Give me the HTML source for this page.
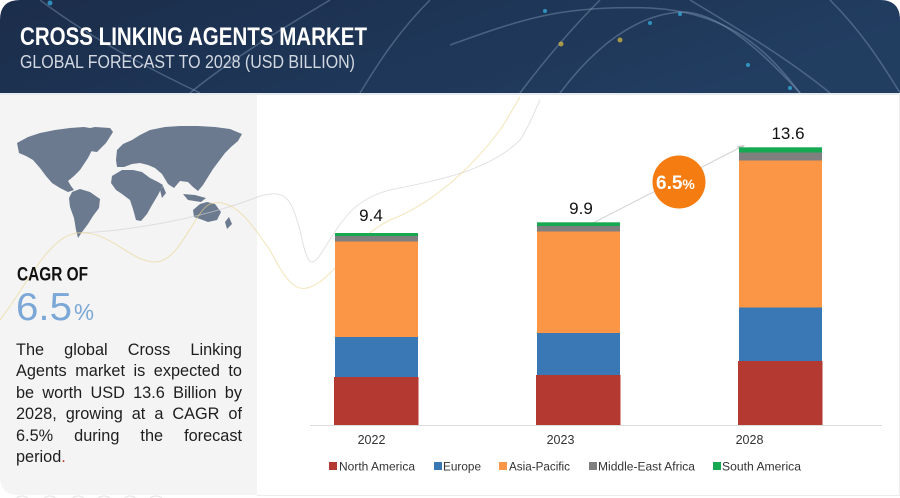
<!DOCTYPE html>
<html><head><meta charset="utf-8"><style>
html,body{margin:0;padding:0;background:#fff;}
body{width:900px;height:498px;overflow:hidden;position:relative;font-family:"Liberation Sans",sans-serif;}
.para{position:absolute;left:16px;top:340px;width:226px;font-size:16.3px;line-height:21.4px;color:#1e1e1e;}
.para div{text-align:justify;text-align-last:justify;white-space:nowrap;}
.para div.l{text-align-last:left;}
</style></head><body>
<svg width="900" height="498" viewBox="0 0 900 498" xmlns="http://www.w3.org/2000/svg" style="position:absolute;left:0;top:0">
<defs>
<linearGradient id="hg" x1="0" y1="0" x2="1" y2="0.3">
<stop offset="0" stop-color="#1b2d4a"/><stop offset="0.5" stop-color="#1e3556"/><stop offset="1" stop-color="#213d60"/>
</linearGradient>
</defs>
<!-- header -->
<path d="M0 93 L0 20 Q0 0 20 0 L880 0 Q900 0 900 20 L900 93 Z" fill="url(#hg)"/>
<g fill="none" stroke="#8fa6c4" stroke-opacity="0.4" stroke-width="1.5">
<path d="M450 45 C520 20 560 5 650 8 C720 12 760 40 800 93"/>
<path d="M560 93 C600 40 640 15 680 12 C720 10 770 60 800 93"/>
<path d="M520 93 C560 40 590 10 600 0"/>
<path d="M690 0 C740 30 790 60 830 93"/>
<path d="M830 0 C860 30 880 60 900 93"/>
<path d="M190 93 C230 60 280 30 330 0"/>
<path d="M360 93 C380 60 400 30 430 0"/>
<path d="M40 0 C80 30 130 60 200 93"/>
</g>
<g opacity="0.7">
<circle cx="561" cy="44" r="2.5" fill="#e0c040"/>
<circle cx="545" cy="11" r="2" fill="#39b7e8"/>
<circle cx="650" cy="23" r="2" fill="#39b7e8"/>
<circle cx="680" cy="14" r="2" fill="#39b7e8"/>
<circle cx="620" cy="40" r="2.5" fill="#e0c040"/>
<circle cx="748" cy="65" r="2" fill="#39b7e8"/>
<circle cx="790" cy="88" r="2" fill="#39b7e8"/>
<circle cx="50" cy="3" r="2.5" fill="#39b7e8"/>
</g>
<text x="20" y="45" font-family="Liberation Sans" font-weight="bold" font-size="25" fill="#ffffff" textLength="347" lengthAdjust="spacingAndGlyphs">CROSS LINKING AGENTS MARKET</text>
<text x="20" y="68" font-family="Liberation Sans" font-size="18.5" fill="#d3d9e2" textLength="335" lengthAdjust="spacingAndGlyphs">GLOBAL FORECAST TO 2028 (USD BILLION)</text>

<!-- body -->
<rect x="0" y="93" width="900" height="2" fill="#e6ebef"/>
<path d="M0 95 L257 95 L257 495 L18 495 Q0 495 0 477 Z" fill="#f4f4f4"/>
<line x1="257" y1="495.5" x2="900" y2="495.5" stroke="#ececec" stroke-width="1"/>
<line x1="899.5" y1="95" x2="899.5" y2="495" stroke="#ececec" stroke-width="1"/>
<g fill="none" stroke="#e2e2e2" stroke-width="1">
<circle cx="22" cy="505" r="9"/><circle cx="50" cy="505" r="9"/><circle cx="78" cy="505" r="9"/><circle cx="104" cy="505" r="9"/><circle cx="130" cy="505" r="9"/><circle cx="156" cy="505" r="9"/>
</g>

<!-- world map -->
<g fill="#6b7a8f">
<path d="M17 143 L28 137 L40 133 L55 130 L70 128 L84 127 L96 129 L100 135 L97 142 L92 150 L88 158 L84 164 L80 170 L74 176 L68 181 L71 186 L74 190 L68 192 L60 188 L52 183 L46 176 L40 168 L33 160 L26 156 L19 153 Z"/>
<path d="M80 130 L95 127 L110 128 L113 132 L106 143 L97 152 L90 151 L84 141 Z"/>
<path d="M72 192 L80 189 L90 192 L100 199 L99 208 L93 216 L88 224 L82 232 L78 238 L76 230 L74 218 L70 207 L69 198 Z"/>
<path d="M116 160 L117 150 L123 144 L132 140 L140 135 L150 130 L165 127 L180 126 L198 126 L215 127 L230 129 L242 134 L238 141 L231 147 L225 153 L219 161 L213 169 L208 177 L203 185 L198 191 L193 187 L188 182 L180 181 L174 188 L168 184 L162 174 L155 168 L148 165 L140 163 L132 164 L124 167 L117 167 Z"/>
<path d="M112 176 L122 170 L133 170 L142 172 L150 178 L158 182 L163 185 L158 195 L152 205 L147 214 L141 221 L136 220 L133 209 L130 200 L122 194 L116 190 L111 183 Z"/>
<path d="M193 210 L200 204 L207 202 L215 204 L221 212 L217 220 L208 222 L200 219 L194 217 Z"/>
<path d="M183 194 L195 195 L206 198 L201 202 L188 200 Z"/>
<path d="M225 222 L229 217 L232 224 L227 229 Z"/>
<path d="M160 190 L163 186 L166 193 L162 198 Z"/>
</g>
<!-- faint decorative curves -->
<g fill="none" stroke-width="1">
<path d="M75 233 C120 232 200 220 260 196 C285 190 290 195 300 230 C306 260 310 270 320 255 C340 225 350 200 390 190 C440 180 490 170 520 140 C530 125 535 110 540 100" stroke="#cfcfcf" stroke-opacity="0.6"/>
<path d="M0 320 C30 280 50 235 78 233 C110 230 130 262 155 262 C180 262 195 210 210 204 C235 195 255 230 270 250 C290 290 300 295 320 282 C345 262 355 238 390 220 C430 205 470 170 500 130 C510 115 515 105 520 97" stroke="#e9d48a" stroke-opacity="0.6"/>
</g>

<text x="17" y="280.5" font-family="Liberation Sans" font-weight="bold" font-size="19" fill="#111" textLength="71" lengthAdjust="spacingAndGlyphs">CAGR OF</text>
<text x="16" y="320" font-family="Liberation Sans" font-size="39" fill="#7ba8d6" textLength="56" lengthAdjust="spacingAndGlyphs">6.5</text>
<text x="74" y="320" font-family="Liberation Sans" font-size="23" fill="#7ba8d6" textLength="20" lengthAdjust="spacingAndGlyphs">%</text>

<!-- arrow line and circle -->
<line x1="560" y1="240" x2="741" y2="147" stroke="#d2d2d2" stroke-width="1"/>
<path d="M745 145 L737 146 L740 151 Z" fill="#c8c8c8"/>
<circle cx="679" cy="182" r="26.5" fill="#f57c10"/>
<text x="656" y="189" font-family="Liberation Sans" font-weight="bold" font-size="19" fill="#ffffff">6.5<tspan font-size="14">%</tspan></text>

<!-- bars -->
<rect x="334" y="377" width="84.5" height="48" fill="#b43a31"/>
<rect x="335" y="337" width="83" height="40" fill="#3a78b5"/>
<rect x="335" y="241.5" width="83" height="95.5" fill="#fb9646"/>
<rect x="335" y="236" width="83" height="5.5" fill="#7f7f7f"/>
<rect x="335" y="233" width="83" height="3" fill="#17a852"/>
<rect x="536" y="375" width="84.5" height="50" fill="#b43a31"/>
<rect x="537" y="333" width="83" height="42" fill="#3a78b5"/>
<rect x="537" y="231.5" width="83" height="101.5" fill="#fb9646"/>
<rect x="537" y="226" width="83" height="5.5" fill="#7f7f7f"/>
<rect x="537" y="222.3" width="83" height="3.7" fill="#17a852"/>
<rect x="738" y="361" width="84.5" height="64" fill="#b43a31"/>
<rect x="739" y="307.5" width="83" height="53.5" fill="#3a78b5"/>
<rect x="739" y="160.5" width="83" height="147" fill="#fb9646"/>
<rect x="739" y="152.5" width="83" height="8" fill="#7f7f7f"/>
<rect x="739" y="147.3" width="83" height="5.2" fill="#17a852"/>

<line x1="310" y1="425.5" x2="882" y2="425.5" stroke="#dcdcdc" stroke-width="1"/>

<g font-family="Liberation Sans" font-size="17" fill="#111" text-anchor="middle">
<text x="371" y="221">9.4</text>
<text x="581" y="214">9.9</text>
<text x="788" y="139">13.6</text>
</g>
<g font-family="Liberation Sans" font-size="12.5" fill="#333" text-anchor="middle">
<text x="371.5" y="444">2022</text>
<text x="560.5" y="444">2023</text>
<text x="749.5" y="444">2028</text>
</g>
<g font-family="Liberation Sans" font-size="12.3" fill="#333">
<rect x="329" y="462" width="8" height="8" fill="#b43a31"/><text x="339" y="470.5" textLength="76" lengthAdjust="spacingAndGlyphs">North America</text>
<rect x="434" y="462" width="8" height="8" fill="#3a78b5"/><text x="443" y="470.5" textLength="38" lengthAdjust="spacingAndGlyphs">Europe</text>
<rect x="499" y="462" width="8" height="8" fill="#fb9646"/><text x="509" y="470.5" textLength="61" lengthAdjust="spacingAndGlyphs">Asia-Pacific</text>
<rect x="589" y="462" width="8" height="8" fill="#7f7f7f"/><text x="598" y="470.5" textLength="97" lengthAdjust="spacingAndGlyphs">Middle-East Africa</text>
<rect x="713" y="462" width="8" height="8" fill="#17a852"/><text x="722" y="470.5" textLength="79" lengthAdjust="spacingAndGlyphs">South America</text>
</g>
</svg>
<div class="para">
<div>The global Cross Linking</div>
<div>Agents market is expected to</div>
<div>be worth USD 13.6 Billion by</div>
<div>2028, growing at a CAGR of</div>
<div>6.5% during the forecast</div>
<div class="l">period<span style="color:#c0392b">.</span></div>
</div>
</body></html>
